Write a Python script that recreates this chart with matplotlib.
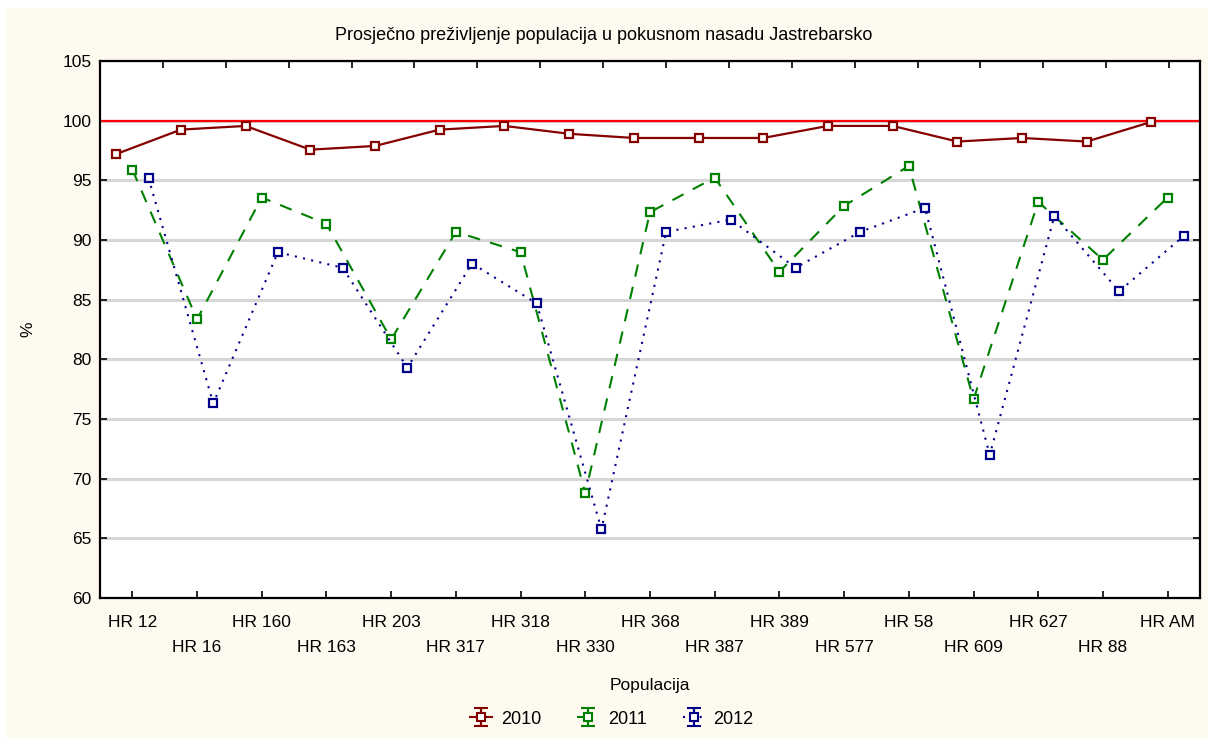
import numpy as np
import matplotlib
matplotlib.use("Agg")
import matplotlib.pyplot as plt
from matplotlib.patches import Rectangle

plt.rcParams['font.family'] = ['Liberation Sans', 'DejaVu Sans']

categories = ["HR 12", "HR 16", "HR 160", "HR 163", "HR 203", "HR 317", "HR 318",
              "HR 330", "HR 368", "HR 387", "HR 389", "HR 577", "HR 58", "HR 609",
              "HR 627", "HR 88", "HR AM"]
s2010 = [97.2, 99.25, 99.56, 97.57, 97.88, 99.25, 99.56, 98.9, 98.55, 98.55,
         98.55, 99.56, 99.56, 98.25, 98.55, 98.25, 99.9]
s2011 = [95.9, 83.35, 93.56, 91.35, 81.67, 90.68, 88.98, 68.77, 92.33, 95.23,
         87.33, 92.86, 96.2, 76.64, 93.2, 88.34, 93.56]
s2012 = [95.2, 76.3, 88.98, 87.67, 79.3, 88.03, 84.68, 65.75, 90.68, 91.71,
         87.67, 90.68, 92.69, 71.98, 92.02, 85.7, 90.35]
series_names = ["2010", "2011", "2012"]
reference_value = 100
yticks = [60, 65, 70, 75, 80, 85, 90, 95, 100, 105]

W, H = 1208, 738
fig = plt.figure(figsize=(W / 100, H / 100), dpi=100, facecolor='white')
cream = '#FFFAF0'
fig.patches.append(Rectangle((6 / W, 0), 1 - 6 / W, 1 - 8 / H, transform=fig.transFigure,
                             facecolor=cream, edgecolor='none', zorder=-10))

ax = fig.add_axes([100 / W, (H - 598) / H, 1100 / W, 537 / H])
ax.set_facecolor('white')

x = np.arange(len(categories))
off = 0.25
colors = ['#850000', '#008000', '#00008B']
styles = ['-', (0, (6, 5)), (0, (1, 3))]
data = [s2010, s2011, s2012]
offsets = [-off, 0, off]

for yv in yticks[1:-1]:
    ax.axhline(yv, color='#D6D6D6', lw=2.2, zorder=1)
ax.axhline(reference_value, color='#FF0000', lw=1.6, zorder=2)

for d, c, ls, o in zip(data, colors, styles, offsets):
    ax.plot(x + o, d, color=c, ls=ls, lw=1.6 if ls == '-' else 1.5, zorder=3,
            marker='s', ms=6, mfc='white', mec=c, mew=1.6)

ax.set_xlim(-0.5, len(categories) - 0.5)
ax.set_ylim(60, 105)
ax.set_yticks(yticks)
ax.set_yticklabels([str(v) for v in yticks], fontsize=12.5)
ax.set_xticks(x)
ax.set_xticklabels([("" if i % 2 == 0 else "\n") + c for i, c in enumerate(categories)],
                   fontsize=12.5, linespacing=1.85)
ax.tick_params(axis='both', direction='in', length=5, width=1.2, color='black', pad=6)
ax.tick_params(axis='x', pad=12)
ax.tick_params(right=True, top=False)
for sp in ax.spines.values():
    sp.set_linewidth(1.6)

# top ticks (different spacing, like the original)
k = 64.76 / 62.94
sec = ax.secondary_xaxis('top', functions=(lambda v: (v + 0.5) * k, lambda v: v / k - 0.5))
sec.set_xticks(np.arange(1, 18))
sec.set_xticklabels([])
sec.tick_params(direction='in', length=5, width=1.2)

ax.set_ylabel('%', fontsize=12.5)
ax.yaxis.set_label_coords(-(100 - 35) / 1100, 0.5)
ax.set_xlabel('Populacija', fontsize=12.5)
ax.xaxis.set_label_coords(0.5, -(678 - 598) / 537)
fig.text(604 / W, 1 - 35 / H, 'Prosječno preživljenje populacija u pokusnom nasadu Jastrebarsko',
         ha='center', va='center', fontsize=13)

handles = []
for c, ls, n in zip(colors, styles, series_names):
    h = ax.errorbar([np.nan], [np.nan], yerr=[1], fmt='s', color=c, ms=6, mfc='white',
                    mec=c, mew=1.5, capsize=5, elinewidth=1.6, capthick=1.6, ls=ls, label=n)
    handles.append(h)
fig.legend(handles=handles, labels=series_names, loc='center', bbox_to_anchor=(612 / W, 1 - 719 / H),
           ncol=3, frameon=False, fontsize=13, handlelength=1.2, columnspacing=2.0,
           handletextpad=0.5)

fig.savefig('out.png', dpi=100, facecolor=fig.get_facecolor())
